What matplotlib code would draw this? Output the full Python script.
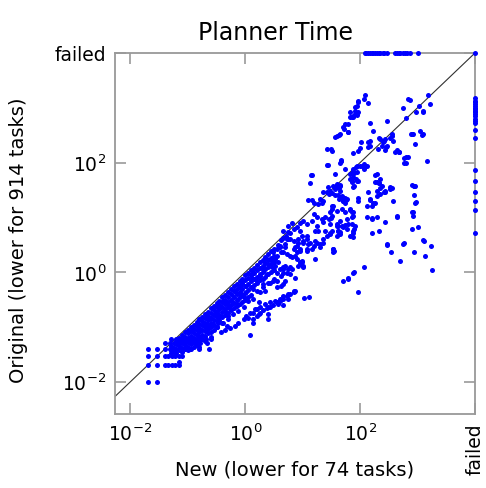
import matplotlib
matplotlib.use("Agg")
import matplotlib.pyplot as plt
import numpy as np

# all values are log10(seconds); "failed" is drawn at 10^4
FAILED = 4.0

# timer-resolution grid at the bottom left (x, y)
grid_pts = [
    (-1.70, -2.00), (-1.53, -2.00),
    (-1.70, -1.70), (-1.53, -1.70), (-1.40, -1.70), (-1.34, -1.70), (-1.28, -1.70), (-1.22, -1.70), (-1.15, -1.70),
    (-1.15, -1.64),
    (-1.70, -1.53), (-1.53, -1.53), (-1.40, -1.53), (-1.34, -1.53), (-1.28, -1.53), (-1.22, -1.53), (-1.16, -1.53), (-1.11, -1.53),
    (-1.70, -1.41), (-1.53, -1.41), (-1.40, -1.41), (-1.32, -1.41), (-1.22, -1.41), (-1.14, -1.41), (-1.05, -1.41),
    (-0.96, -1.41), (-0.81, -1.41), (-0.64, -1.41),
    (-1.40, -1.30), (-1.32, -1.30), (-1.22, -1.30), (-1.14, -1.30), (-1.05, -1.30), (-0.96, -1.30), (-0.88, -1.30),
    (-0.79, -1.30), (-0.67, -1.30),
    (-1.30, -1.22), (-1.20, -1.22), (-1.11, -1.22), (-1.03, -1.22), (-0.94, -1.22), (-0.85, -1.22), (-0.77, -1.22),
    (-0.68, -1.22), (-0.59, -1.22),
]

# dense band just under the diagonal
band_pts = [
    (-1.30, -1.35), (-1.30, -1.42), (-1.30, -1.48),
    (-1.25, -1.30), (-1.25, -1.38), (-1.25, -1.45),
    (-1.20, -1.26), (-1.20, -1.32), (-1.20, -1.40), (-1.20, -1.47),
    (-1.15, -1.20), (-1.15, -1.28), (-1.15, -1.35), (-1.15, -1.42),
    (-1.10, -1.15), (-1.10, -1.22), (-1.10, -1.30), (-1.10, -1.38), (-1.10, -1.45),
    (-1.05, -1.10), (-1.05, -1.18), (-1.05, -1.25), (-1.05, -1.33), (-1.05, -1.40),
    (-1.00, -1.06), (-1.00, -1.12), (-1.00, -1.20), (-1.00, -1.28), (-1.00, -1.36), (-1.00, -1.42),
    (-0.95, -1.00), (-0.95, -1.08), (-0.95, -1.16), (-0.95, -1.24), (-0.95, -1.32), (-0.95, -1.40),
    (-0.90, -0.96), (-0.90, -1.03), (-0.90, -1.12), (-0.90, -1.20), (-0.90, -1.28), (-0.90, -1.36),
    (-0.85, -0.91), (-0.85, -0.98), (-0.85, -1.06), (-0.85, -1.15), (-0.85, -1.24), (-0.85, -1.33),
    (-0.80, -0.86), (-0.80, -0.94), (-0.80, -1.02), (-0.80, -1.10), (-0.80, -1.18), (-0.80, -1.27), (-0.80, -1.36),
    (-0.75, -0.82), (-0.75, -0.90), (-0.75, -0.97), (-0.75, -1.05), (-0.75, -1.14), (-0.75, -1.22),
    (-0.70, -0.76), (-0.70, -0.84), (-0.70, -0.92), (-0.70, -1.00), (-0.70, -1.08), (-0.70, -1.17), (-0.70, -1.26),
    (-0.65, -0.72), (-0.65, -0.80), (-0.65, -0.88), (-0.65, -0.96), (-0.65, -1.04), (-0.65, -1.12),
    (-0.60, -0.66), (-0.60, -0.74), (-0.60, -0.83), (-0.60, -0.92), (-0.60, -1.00), (-0.60, -1.09), (-0.60, -1.18),
    (-0.55, -0.62), (-0.55, -0.70), (-0.55, -0.78), (-0.55, -0.87), (-0.55, -0.96), (-0.55, -1.05),
    (-0.50, -0.56), (-0.50, -0.64), (-0.50, -0.73), (-0.50, -0.82), (-0.50, -0.90), (-0.50, -1.00),
    (-0.45, -0.52), (-0.45, -0.60), (-0.45, -0.68), (-0.45, -0.78), (-0.45, -0.88),
    (-0.40, -0.46), (-0.40, -0.54), (-0.40, -0.63), (-0.40, -0.72), (-0.40, -0.82), (-0.40, -0.92),
    (-0.35, -0.42), (-0.35, -0.50), (-0.35, -0.58), (-0.35, -0.68), (-0.35, -0.78),
    (-0.30, -0.36), (-0.30, -0.45), (-0.30, -0.55), (-0.30, -0.64), (-0.30, -0.74), (-0.30, -0.86),
    (-0.25, -0.31), (-0.25, -0.40), (-0.25, -0.50), (-0.25, -0.60), (-0.25, -0.70),
    (-0.20, -0.26), (-0.20, -0.35), (-0.20, -0.45), (-0.20, -0.56), (-0.20, -0.66),
    (-0.15, -0.22), (-0.15, -0.30), (-0.15, -0.40), (-0.15, -0.50), (-0.15, -0.62),
    (-0.10, -0.16), (-0.10, -0.25), (-0.10, -0.36), (-0.10, -0.46), (-0.10, -0.58),
    (-0.05, -0.12), (-0.05, -0.20), (-0.05, -0.30), (-0.05, -0.42), (-0.05, -0.55),
    (0.00, -0.06), (0.00, -0.15), (0.00, -0.26), (0.00, -0.38), (0.00, -0.50),
    (0.05, -0.02), (0.05, -0.10), (0.05, -0.22), (0.05, -0.33), (0.05, -0.46),
    (0.10, 0.04), (0.10, -0.05), (0.10, -0.17), (0.10, -0.28), (0.10, -0.42),
    (0.15, 0.08), (0.15, -0.02), (0.15, -0.12), (0.15, -0.24),
    (0.20, 0.13), (0.20, 0.03), (0.20, -0.08), (0.20, -0.20), (0.20, -0.34),
    (0.25, 0.18), (0.25, 0.08), (0.25, -0.04), (0.25, -0.15),
    (0.30, 0.23), (0.30, 0.12), (0.30, 0.00), (0.30, -0.12), (0.30, -0.28),
    (0.35, 0.28), (0.35, 0.17), (0.35, 0.05), (0.35, -0.08),
    (0.40, 0.33), (0.40, 0.22), (0.40, 0.10), (0.40, -0.04), (0.40, -0.20),
    (0.45, 0.38), (0.45, 0.26), (0.45, 0.14), (0.45, 0.00),
    (0.50, 0.43), (0.50, 0.30), (0.50, 0.18), (0.50, 0.04), (0.50, -0.12),
]

# looser cloud around and below the band
mid_pts = [
    (0.66, 0.75), (0.75, 0.74), (0.84, 0.79), (0.95, 0.75), (1.07, 0.66), (1.01, 0.57), (0.92, 0.54), (0.87, 0.45),
    (0.95, 0.39), (1.07, 0.42), (1.10, 0.51), (0.78, 0.60), (0.69, 0.51), (0.60, 0.45), (0.63, 0.36), (0.55, 0.30),
    (0.72, 0.33), (0.81, 0.27), (0.90, 0.24), (0.95, 0.15), (0.78, 0.09), (0.66, 0.05), (0.72, -0.01), (0.63, -0.07),
    (0.55, -0.01), (0.46, 0.09), (0.46, 0.21), (0.37, 0.24), (0.40, 0.15), (0.31, 0.05), (0.37, -0.04), (0.26, -0.07),
    (0.14, -0.01), (0.11, -0.10), (0.20, -0.16), (0.31, -0.22), (0.43, -0.19), (0.49, -0.16), (0.55, -0.28),
    (0.63, -0.25), (0.66, -0.22), (0.34, -0.34), (0.26, -0.37), (0.14, -0.31), (0.02, -0.25), (-0.06, -0.19),
    (-0.09, -0.28), (0.02, -0.37), (-0.09, -0.40), (-0.18, -0.34), (-0.21, -0.43), (-0.12, -0.49), (-0.03, -0.46),
    (0.05, -0.52), (0.14, -0.49), (0.23, -0.55), (0.17, -0.68), (0.08, -0.74), (0.02, -0.80), (-0.03, -0.64),
    (-0.15, -0.58), (-0.24, -0.52), (-0.32, -0.58), (-0.38, -0.52), (-0.44, -0.62), (-0.35, -0.71), (-0.27, -0.68),
    (-0.21, -0.77), (-0.12, -0.71), (-0.30, -0.80), (-0.44, -0.80), (-0.53, -0.77), (-0.59, -0.83), (-0.64, -0.86),
    (-0.67, -0.95), (-0.56, -0.95), (-0.47, -0.92), (-0.38, -0.92), (-0.32, -0.98), (-0.50, -1.01),
    (0.81, 0.90), (0.75, 0.84), (0.90, 0.82), (0.78, 0.72), (0.70, 0.66), (0.72, 0.60), (0.63, 0.58), (0.57, 0.50),
    (0.66, 0.63), (0.75, 0.60), (0.84, 0.57), (0.92, 0.60), (0.98, 0.66), (1.01, 0.54), (1.07, 0.60), (1.13, 0.54),
    (1.19, 0.48), (1.24, 0.54), (1.30, 0.51), (1.36, 0.54), (1.42, 0.66), (1.48, 0.69), (1.51, 0.75), (1.59, 0.66),
    (1.62, 0.75), (1.59, 0.85), (1.68, 0.85), (1.77, 0.79), (1.85, 0.88), (1.65, 0.69), (1.39, 0.75), (1.27, 0.75),
    (1.21, 0.75), (1.53, 0.42), (1.53, 0.37), (1.21, 0.24), (0.49, 0.36), (0.52, 0.24), (0.57, 0.18),
    (0.52, 0.12), (0.60, 0.05), (0.69, 0.12), (0.75, 0.05), (0.66, -0.01), (0.78, -0.04), (0.84, 0.42), (0.90, 0.48),
    (0.95, 0.42), (0.98, 0.18), (1.01, 0.12), (0.92, 0.12), (0.87, 0.30), (0.78, 0.30), (0.66, 0.36), (0.69, 0.45),
    (0.60, 0.48), (0.55, 0.42), (1.88, -0.01), (2.06, 0.09), (1.79, -0.10), (0.87, -0.10),
    (1.01, 0.09), (0.69, -0.16), (0.55, -0.16), (0.81, 0.05), (0.66, 0.09), (0.95, 0.18), (0.98, 0.21), (0.90, 0.36),
    (1.07, 0.39), (1.16, 0.42), (1.30, 0.45), (1.21, 0.57), (1.36, 0.60), (1.62, 0.75), (1.71, 0.82),
    (1.88, 0.72), (1.82, 0.66), (1.91, 0.85), (1.48, 0.88), (1.65, 0.94), (1.77, 0.97),
    (1.19, 1.06), (1.24, 1.00), (1.33, 0.97), (1.39, 1.00), (1.45, 0.97), (1.36, 0.91), (1.24, 0.85), (1.16, 0.94),
    (1.07, 0.88), (1.01, 0.94), (0.95, 0.90),
]

# lower streak running from about 10^-0.2 to 10^1
streak_pts = [
    (-0.18, -0.98), (-0.12, -0.93), (-0.03, -0.86), (0.05, -0.83), (0.14, -0.86), (0.20, -0.80), (0.26, -0.74),
    (0.31, -0.69), (0.37, -0.66), (0.43, -0.63), (0.49, -0.60), (0.55, -0.55), (0.60, -0.52), (0.66, -0.49),
    (0.72, -0.44), (0.78, -0.40), (0.84, -0.36), (0.87, -0.34), (0.14, -0.92), (0.23, -0.77), (0.40, -0.64),
    (0.57, -0.58), (0.66, -0.60), (0.75, -0.49), (0.84, -0.34), (0.75, -0.40), (0.66, -0.43), (0.60, -0.49),
    (0.52, -0.52), (0.43, -0.55), (0.34, -0.58), (0.26, -0.64), (0.20, -0.68), (0.14, -0.74), (0.40, -0.77),
    (0.40, -0.86), (1.03, -0.48), (1.11, -0.46), (0.08, -1.14), (-0.27, -1.02), (-0.35, -1.06), (-0.42, -1.10),
]

# sparse upper cloud (x > 10^1)
upper_pts = [
    (1.43, 1.95), (1.66, 2.03), (1.14, 1.78), (1.13, 1.62), (1.56, 1.79), (1.74, 1.88), (1.87, 1.85), (1.93, 1.91),
    (1.99, 1.94), (2.07, 1.97), (1.85, 1.67), (1.88, 1.73), (1.82, 1.79), (2.26, 1.78), (2.32, 1.63), (1.62, 1.58),
    (1.56, 1.52), (1.48, 1.48), (1.42, 1.46), (1.36, 1.46), (1.45, 1.42), (1.65, 1.48), (1.68, 1.39), (1.64, 1.33),
    (1.71, 1.30), (1.77, 1.33), (1.74, 1.27), (1.30, 1.33), (1.33, 1.27), (1.36, 1.30), (1.27, 1.24), (1.19, 1.27),
    (1.10, 1.32), (1.16, 1.32), (1.82, 1.15), (1.88, 1.09), (1.85, 1.00), (1.68, 1.15), (1.59, 1.12), (1.48, 1.09),
    (1.51, 1.15), (2.14, 1.46), (2.17, 1.33), (2.20, 1.21), (2.26, 1.27), (2.29, 1.39), (2.12, 1.00), (2.20, 0.97),
    (2.09, 3.24), (2.07, 3.16), (2.13, 3.09), (1.97, 3.11), (1.91, 3.02), (1.95, 2.90), (1.91, 2.88), (1.87, 2.85),
    (1.82, 2.83), (1.88, 2.83), (1.94, 2.86), (1.82, 2.93), (1.79, 2.70), (1.72, 2.62), (1.78, 2.55), (1.64, 2.51),
    (1.57, 2.47), (2.17, 2.72), (2.22, 2.57), (2.46, 2.75), (2.86, 3.15), (2.74, 2.99), (3.03, 3.04), (3.09, 2.93),
    (2.97, 2.93), (3.19, 3.24), (3.22, 3.07), (2.80, 2.81), (2.92, 2.52), (2.89, 2.52), (3.04, 2.58), (3.07, 2.50),
    (2.96, 2.34), (2.55, 2.52), (2.57, 2.40), (2.52, 2.44), (2.35, 2.43), (2.41, 2.40), (2.38, 2.31), (2.45, 2.28),
    (2.43, 2.23), (2.46, 2.31), (2.02, 2.38), (2.14, 2.38), (2.17, 2.31), (2.31, 2.25), (2.64, 2.23), (2.61, 2.19),
    (2.68, 2.19), (2.80, 2.10), (2.84, 2.10), (2.77, 2.00), (2.80, 2.00), (3.17, 2.03), (1.49, 2.25), (1.51, 2.22),
    (1.67, 2.05), (1.66, 2.02), (1.88, 2.17), (1.99, 2.26), (1.97, 2.22), (1.44, 1.95), (1.16, 1.77), (1.88, 1.89),
    (1.94, 1.93), (2.03, 1.93), (2.06, 1.89), (2.12, 1.93), (1.85, 1.81), (1.89, 1.81), (1.82, 1.70), (1.93, 1.70),
    (1.85, 1.64), (1.97, 1.67), (1.88, 1.55), (2.35, 1.70), (2.38, 1.58), (2.35, 1.54), (1.65, 1.57),
    (1.59, 1.58), (1.64, 1.53), (1.44, 1.55), (2.52, 1.55), (2.93, 1.58), (2.94, 1.57),
    (1.97, 3.13), (1.94, 3.04), (1.91, 2.95), (1.97, 2.93), (1.85, 2.83), (1.74, 2.70), (1.71, 2.64), (1.79, 2.55),
    (1.65, 2.52), (1.59, 2.48), (2.84, 3.16), (3.10, 2.95), (2.90, 2.53), (3.09, 2.52), (2.77, 2.09), (2.32, 2.44),
    (2.39, 2.37), (2.43, 2.43), (2.55, 2.49), (2.67, 2.19), (2.17, 2.40), (2.14, 2.28), (1.43, 2.25), (1.65, 2.00),
    (1.94, 1.82), (2.09, 1.94), (1.90, 1.58), (2.29, 1.79), (2.26, 1.64), (2.29, 1.48), (2.43, 1.46), (2.58, 1.30),
    (2.90, 1.59), (2.96, 1.27), (2.90, 1.09), (2.92, 1.03), (3.01, 0.82), (2.90, 0.79), (2.64, 1.03), (2.52, 1.52),
    (2.29, 1.00), (2.20, 0.72), (2.32, 0.75), (2.43, 0.91),
    (1.53, 1.58), (1.59, 1.61), (1.65, 1.59), (1.62, 1.55), (1.94, 1.67), (2.29, 1.64), (2.33, 1.63), (2.55, 1.53),
    (2.96, 1.57), (1.51, 1.44), (1.56, 1.41), (1.62, 1.41), (1.68, 1.38), (1.74, 1.36), (1.75, 1.32), (1.70, 1.30),
    (1.97, 1.36), (1.97, 1.30), (2.18, 1.32), (2.23, 1.26), (2.35, 1.42), (2.41, 1.47), (2.43, 1.48), (2.93, 1.41),
    (2.97, 1.28), (2.12, 1.20), (1.51, 1.20), (1.53, 1.21), (1.74, 1.10), (1.82, 1.14), (1.85, 1.10), (1.88, 1.03),
    (1.51, 1.03), (2.64, 1.00), (2.92, 1.09), (1.49, 0.98), (2.20, 0.98), (1.79, 0.88), (1.74, 0.86), (1.59, 0.88),
    (1.62, 0.85), (1.89, 0.79), (1.87, 0.75), (1.65, 0.74), (1.48, 0.72), (1.87, 0.65), (2.47, 0.50), (2.54, 0.37),
    (2.76, 0.53), (2.70, 0.21), (2.93, 0.37), (3.11, 0.57), (3.24, 0.48), (3.13, 0.30), (3.25, 0.04), (1.52, 0.42),
    (1.55, 0.38), (1.89, 0.01), (1.79, -0.13), (1.70, -0.17), (1.97, -0.37), (2.46, 0.51), (2.75, 0.52), (3.10, 0.58),
]

# new planner failed (right edge): original times
failed_new_y = [3.17, 3.12, 3.10, 3.07, 3.04, 3.00, 2.98, 2.95, 2.92, 2.88, 2.85, 2.80, 2.76, 2.73, 2.60, 2.44,
                1.86, 1.67, 1.47, 1.29, 1.14, 0.71]
# original planner failed (top edge): new times
failed_orig_x = [2.09, 2.11, 2.14, 2.17, 2.20, 2.23, 2.26, 2.29, 2.32, 2.35, 2.39, 2.41, 2.46, 2.61, 2.65, 2.67,
                 2.70, 2.74, 2.78, 2.81, 2.87, 3.01]

xlo, ylo = -2.27, -2.59
tick_exp = [-2, 0, 2]

pts = np.array(grid_pts + band_pts + mid_pts + streak_pts + upper_pts)
px = np.concatenate([pts[:, 0], np.full(len(failed_new_y), FAILED), failed_orig_x, [FAILED]])
py = np.concatenate([pts[:, 1], failed_new_y, np.full(len(failed_orig_x), FAILED), [FAILED]])

fig = plt.figure(figsize=(4.86, 4.89), dpi=100)
ax = fig.add_axes([0.2366, 0.1513, 0.7407, 0.7383])
ax.set_xscale("log")
ax.set_yscale("log")
ax.set_xlim(10 ** xlo, 10 ** FAILED)
ax.set_ylim(10 ** ylo, 10 ** FAILED)

ax.plot([10 ** xlo, 10 ** FAILED], [10 ** xlo, 10 ** FAILED], color="#303030", lw=0.8, zorder=2)
ax.scatter(10 ** px, 10 ** py, s=13, color="#0000ff", linewidths=0, zorder=3, clip_on=False)

gray = "#999999"
for sp in ax.spines.values():
    sp.set_color(gray)
    sp.set_linewidth(1.3)

ticks = [10.0 ** e for e in tick_exp] + [10 ** FAILED]
labels = ["$10^{%d}$" % e for e in tick_exp] + ["failed"]
ax.set_xticks(ticks)
ax.set_xticklabels(labels, fontsize=13.5)
ax.set_yticks(ticks)
ax.set_yticklabels(labels, fontsize=13.5)
ax.minorticks_off()
ax.tick_params(which="both", direction="in", length=8, width=1.2, color=gray,
               top=True, right=True, pad=6)
ax.get_xticklabels()[-1].set_rotation(90)

ax.set_title("Planner Time", fontsize=17, x=0.447, pad=10)
ax.set_xlabel("New (lower for 74 tasks)", fontsize=14)
ax.xaxis.set_label_coords(0.5, -0.125)
ax.set_ylabel("Original (lower for 914 tasks)", fontsize=14)
ax.yaxis.set_label_coords(-0.242, 0.485)

fig.savefig("out.png", dpi=100)
